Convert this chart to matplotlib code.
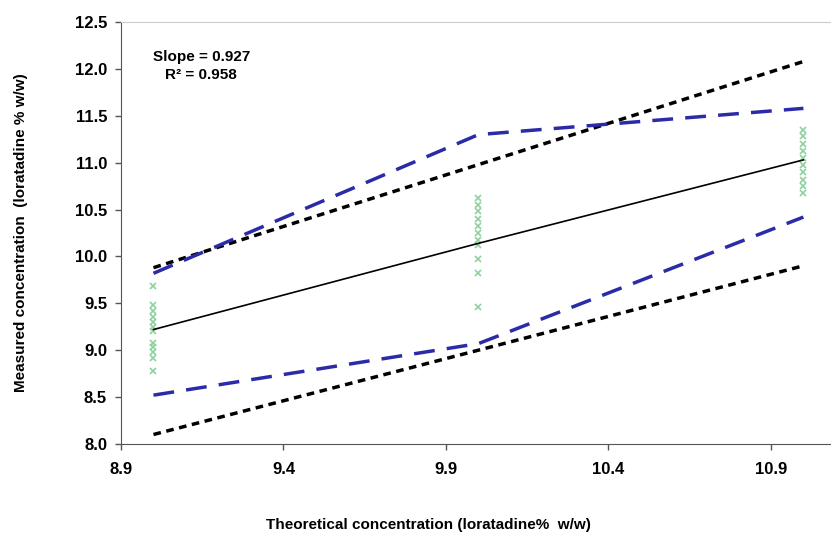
import matplotlib
matplotlib.use("Agg")
import matplotlib.pyplot as plt

plt.rcParams['font.family'] = ['Liberation Sans', 'DejaVu Sans']

# Data
x_levels = [9.0, 10.0, 11.0]
meas_9 = [9.68, 9.48, 9.42, 9.35, 9.30, 9.25, 9.20, 9.08, 9.03, 8.98, 8.92, 8.78]
meas_10 = [10.62, 10.55, 10.48, 10.40, 10.32, 10.25, 10.18, 10.12, 9.97, 9.82, 9.46]
meas_11 = [11.35, 11.28, 11.20, 11.12, 11.05, 10.98, 10.90, 10.82, 10.75, 10.68]

fit_y = [9.22, 10.14, 11.03]
pred_upper = [9.88, 10.98, 12.08]
pred_lower = [8.10, 9.00, 9.90]
conf_upper = [9.82, 11.30, 11.58]
conf_lower = [8.52, 9.07, 10.42]

xticks = [8.9, 9.4, 9.9, 10.4, 10.9]
yticks = [8.0, 8.5, 9.0, 9.5, 10.0, 10.5, 11.0, 11.5, 12.0, 12.5]

fig = plt.figure(figsize=(8.31, 5.40), dpi=100)
ax = fig.add_axes([0.1456, 0.178, 0.8544, 0.781])

green = '#8fd19e'
for xv, ys in zip(x_levels, [meas_9, meas_10, meas_11]):
    ax.plot([xv] * len(ys), ys, linestyle='none', marker='x', markersize=4,
            markeredgewidth=1.2, color=green, zorder=2)

ax.plot(x_levels, fit_y, color='black', lw=1.2, zorder=3)
ax.plot(x_levels, pred_upper, color='black', lw=2.5, dashes=(2.2, 1.6), zorder=3)
ax.plot(x_levels, pred_lower, color='black', lw=2.5, dashes=(2.2, 1.6), zorder=3)
ax.plot(x_levels, conf_upper, color='#2b2ba8', lw=2.5, dashes=(6, 3.5), zorder=3)
ax.plot(x_levels, conf_lower, color='#2b2ba8', lw=2.5, dashes=(6, 3.5), zorder=3)

ax.set_xlim(8.9, 11.085)
ax.set_ylim(8.0, 12.5)
ax.set_xticks(xticks)
ax.set_xticklabels([f"{v:.1f}" for v in xticks], fontsize=12, fontweight='bold')
ax.set_yticks(yticks)
ax.set_yticklabels([f"{v:.1f}" for v in yticks], fontsize=12, fontweight='bold')
ax.tick_params(direction='out', length=4, width=1, color='#555555', pad=6)
ax.tick_params(axis='x', pad=9)

ax.spines['right'].set_visible(False)
ax.spines['top'].set_color('#cccccc')
ax.spines['left'].set_color('#555555')
ax.spines['bottom'].set_color('#555555')

ax.text(0.113, 0.895, "Slope = 0.927\nR² = 0.958", transform=ax.transAxes,
        ha='center', va='center', fontsize=11, fontweight='bold', linespacing=1.35)

fig.text(0.025, 0.57, "Measured concentration  (loratadine % w/w)", rotation=90,
         ha='center', va='center', fontsize=11, fontweight='bold')
fig.text(0.515, 0.028, "Theoretical concentration (loratadine%  w/w)",
         ha='center', va='center', fontsize=11, fontweight='bold')

fig.savefig('out.png', dpi=100)
